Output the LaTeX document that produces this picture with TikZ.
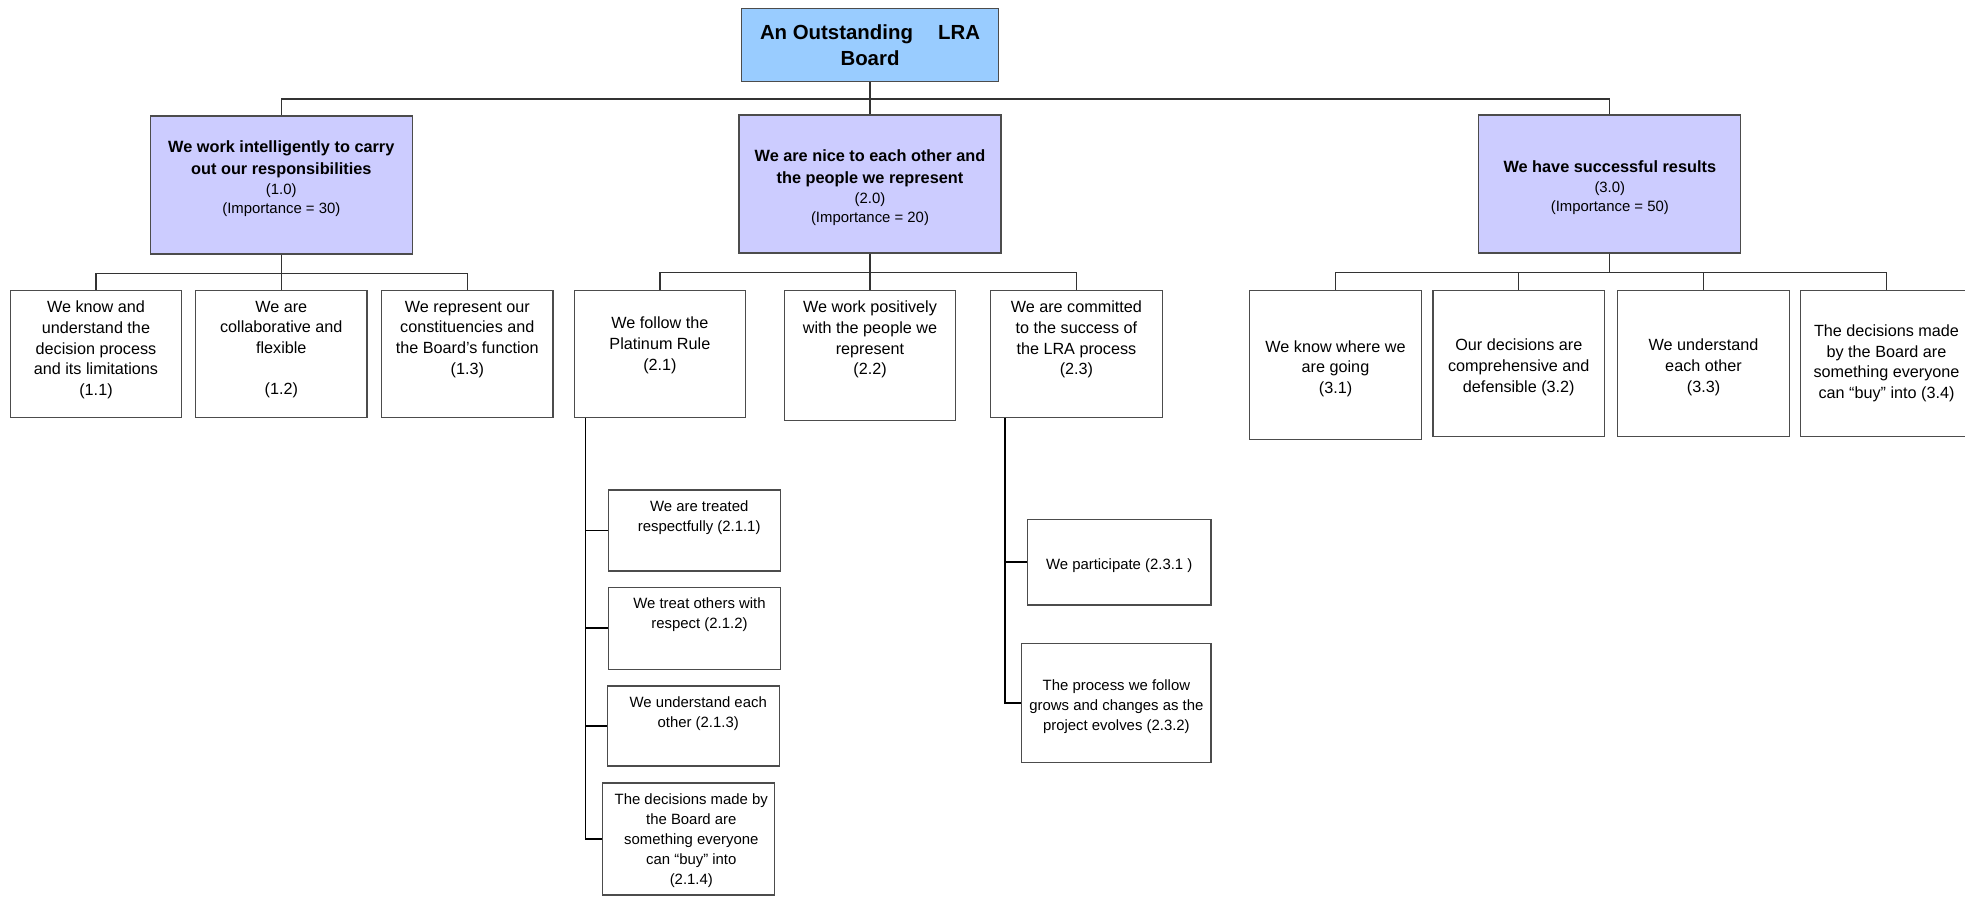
\documentclass[tikz,border=0pt]{standalone}
\usepackage{fontspec}
\setmainfont{Liberation Sans}
\usetikzlibrary{positioning}

\definecolor{rootblue}{RGB}{153,204,255}
\definecolor{goalblue}{RGB}{204,204,255}

\newcommand{\rootsize}{\fontsize{20.4}{25.7}\selectfont\bfseries}
\newcommand{\headsize}{\fontsize{16.3}{21.3}\selectfont\bfseries}
\newcommand{\numsize}{\fontsize{14.9}{19.5}\selectfont\mdseries}
\newcommand{\itemsize}{\fontsize{16.2}{20.6}\selectfont}
\newcommand{\leafsize}{\fontsize{14.9}{20}\selectfont}
\newcommand{\padtop}{\rule{0pt}{1.2em}}

\tikzset{
  box/.style={draw=black!70, line width=1.3pt, inner sep=0pt},
  goal/.style={box, fill=goalblue, minimum width=262pt, minimum height=138pt},
  item/.style={box, minimum width=171.5pt, minimum height=127.5pt, anchor=north},
  leaf/.style={box, minimum width=172pt},
  txt/.style={inner sep=0pt, align=center},
  mid/.style={align=center},
  link/.style={draw=black!80, line width=1.3pt},
  trunk/.style={draw=black, line width=1.7pt}
}

\begin{document}
\begin{tikzpicture}[x=1pt,y=-1pt]
\useasboundingbox (0,0) rectangle (1965,898);
\clip (0,0) rectangle (1965,898);

\node[box, fill=rootblue, minimum width=256.6pt, minimum height=73.4pt,
      align=center, font=\rootsize] (root) at (870,45)
      {An Outstanding\hspace{1.23em}LRA\\Board};

% goals
\node[goal] (g1) at (281.3,185) {};
\node[txt, font=\headsize, below=25.5pt of g1.north] (g1t)
     {We work intelligently to carry\\ out our responsibilities\\[-0.8pt]
      \numsize (1.0)\\[-2.3pt] \numsize (Importance = 30)};
\node[goal, mid, font=\headsize] (g2) at (870,184) 
     {\padtop We are nice to each other and\\ the people we represent\\[-0.8pt]
      \numsize (2.0)\\[-2.3pt] \numsize (Importance = 20)};
\node[goal, mid, font=\headsize] (g3) at (1609.8,184)
     {\padtop We have successful results\\[-0.8pt] \numsize (3.0)\\[-2.3pt] \numsize (Importance = 50)};

\coordinate (bus) at (870,99);
\draw[link] (root.south) -- (bus);
\draw[link] (bus) -| (g1.north);
\draw[link] (bus) -- (g2.north);
\draw[link] (bus) -| (g3.north);

% second row
\node[item] (n11) at (96,289.5) {};
\node[item] (n12) at (281.3,289.5) {};
\node[item] (n13) at (467.3,289.5) {};
\node[item] (n21) at (659.9,289.5) {};
\node[item, minimum height=130.5pt] (n22) at (870,289.5) {};
\node[item] (n23) at (1076.4,289.5) {};

\node[txt, font=\itemsize, below=11.4pt of n11.north] (n11t)
     {We know and\\understand the\\decision process\\and its limitations\\(1.1)};
\node[txt, font=\itemsize, below=11.4pt of n12.north] (n12t)
     {We are\\collaborative and\\flexible\\ \mbox{}\\(1.2)};
\node[txt, font=\itemsize, below=11.4pt of n13.north] (n13t)
     {We represent our\\constituencies and\\the Board’s function\\(1.3)};
\node[txt, font=\itemsize, below=27.4pt of n21.north] (n21t)
     {We follow the\\Platinum Rule\\(2.1)};
\node[txt, font=\itemsize, below=11.4pt of n22.north] (n22t)
     {We work positively\\with the people we\\represent\\(2.2)};
\node[txt, font=\itemsize, below=11.4pt of n23.north] (n23t)
     {We are committed\\to the success of\\the LRA process\\(2.3)};

\node[item, minimum height=149.5pt, mid, font=\itemsize] (n31) at (1335.5,289.5)
     {\padtop We know where we\\are going\\(3.1)};
\node[item, minimum height=146.5pt, mid, font=\itemsize] (n32) at (1518.8,289.5)
     {\padtop Our decisions are\\comprehensive and\\defensible (3.2)};
\node[item, minimum height=146.5pt, mid, font=\itemsize] (n33) at (1703.5,289.5)
     {\padtop We understand\\each other\\(3.3)};
\node[item, minimum height=146.5pt, mid, font=\itemsize] (n34) at (1886.5,289.5)
     {The decisions made\\by the Board are\\something everyone\\can “buy” into (3.4)};

\foreach \n in {n11,n12,n13} \draw[link] (g1.south) -- ++(0,18.5) -| (\n.north);
\foreach \n in {n21,n22,n23} \draw[link] (g2.south) -- ++(0,18.5) -| (\n.north);
\foreach \n in {n31,n32,n33,n34} \draw[link] (g3.south) -- ++(0,18.5) -| (\n.north);

% third row
\node[leaf, minimum height=81pt] (n211) at (694.2,530.5) {};
\node[leaf, minimum height=82pt] (n212) at (694.5,628.3) {};
\node[leaf, minimum height=80pt] (n213) at (693.2,726) {};
\node[leaf, minimum height=112pt] (n214) at (688.3,839) {};

\node[txt, font=\leafsize, below=10.7pt of n211.north, xshift=5pt] (n211t)
     {We are treated\\respectfully (2.1.1)};
\node[txt, font=\leafsize, below=10.7pt of n212.north, xshift=5pt] (n212t)
     {We treat others with\\respect (2.1.2)};
\node[txt, font=\leafsize, below=10.7pt of n213.north, xshift=5pt] (n213t)
     {We understand each\\other (2.1.3)};
\node[txt, font=\leafsize, below=11pt of n214.north, xshift=3pt] (n214t)
     {The decisions made by\\the Board are\\something everyone\\can “buy” into\\(2.1.4)};

\node[leaf, minimum width=183.7pt, minimum height=85.7pt, mid, font=\leafsize]
     (n231) at (1119.2,562.2) {\padtop We participate (2.3.1 )};
\node[leaf, minimum width=189.3pt, minimum height=119pt, mid, font=\leafsize]
     (n232) at (1116.4,702.8) {\padtop The process we follow\\grows and changes as the\\project evolves (2.3.2)};

\coordinate (t21) at ([xshift=12pt]n21.south west);
\coordinate (t23) at ([xshift=15pt]n23.south west);
\foreach \n in {n211,n212,n213,n214} \draw[trunk] (t21) |- (\n.west);
\foreach \n in {n231,n232} \draw[trunk] (t23) |- (\n.west);

\end{tikzpicture}
\end{document}
